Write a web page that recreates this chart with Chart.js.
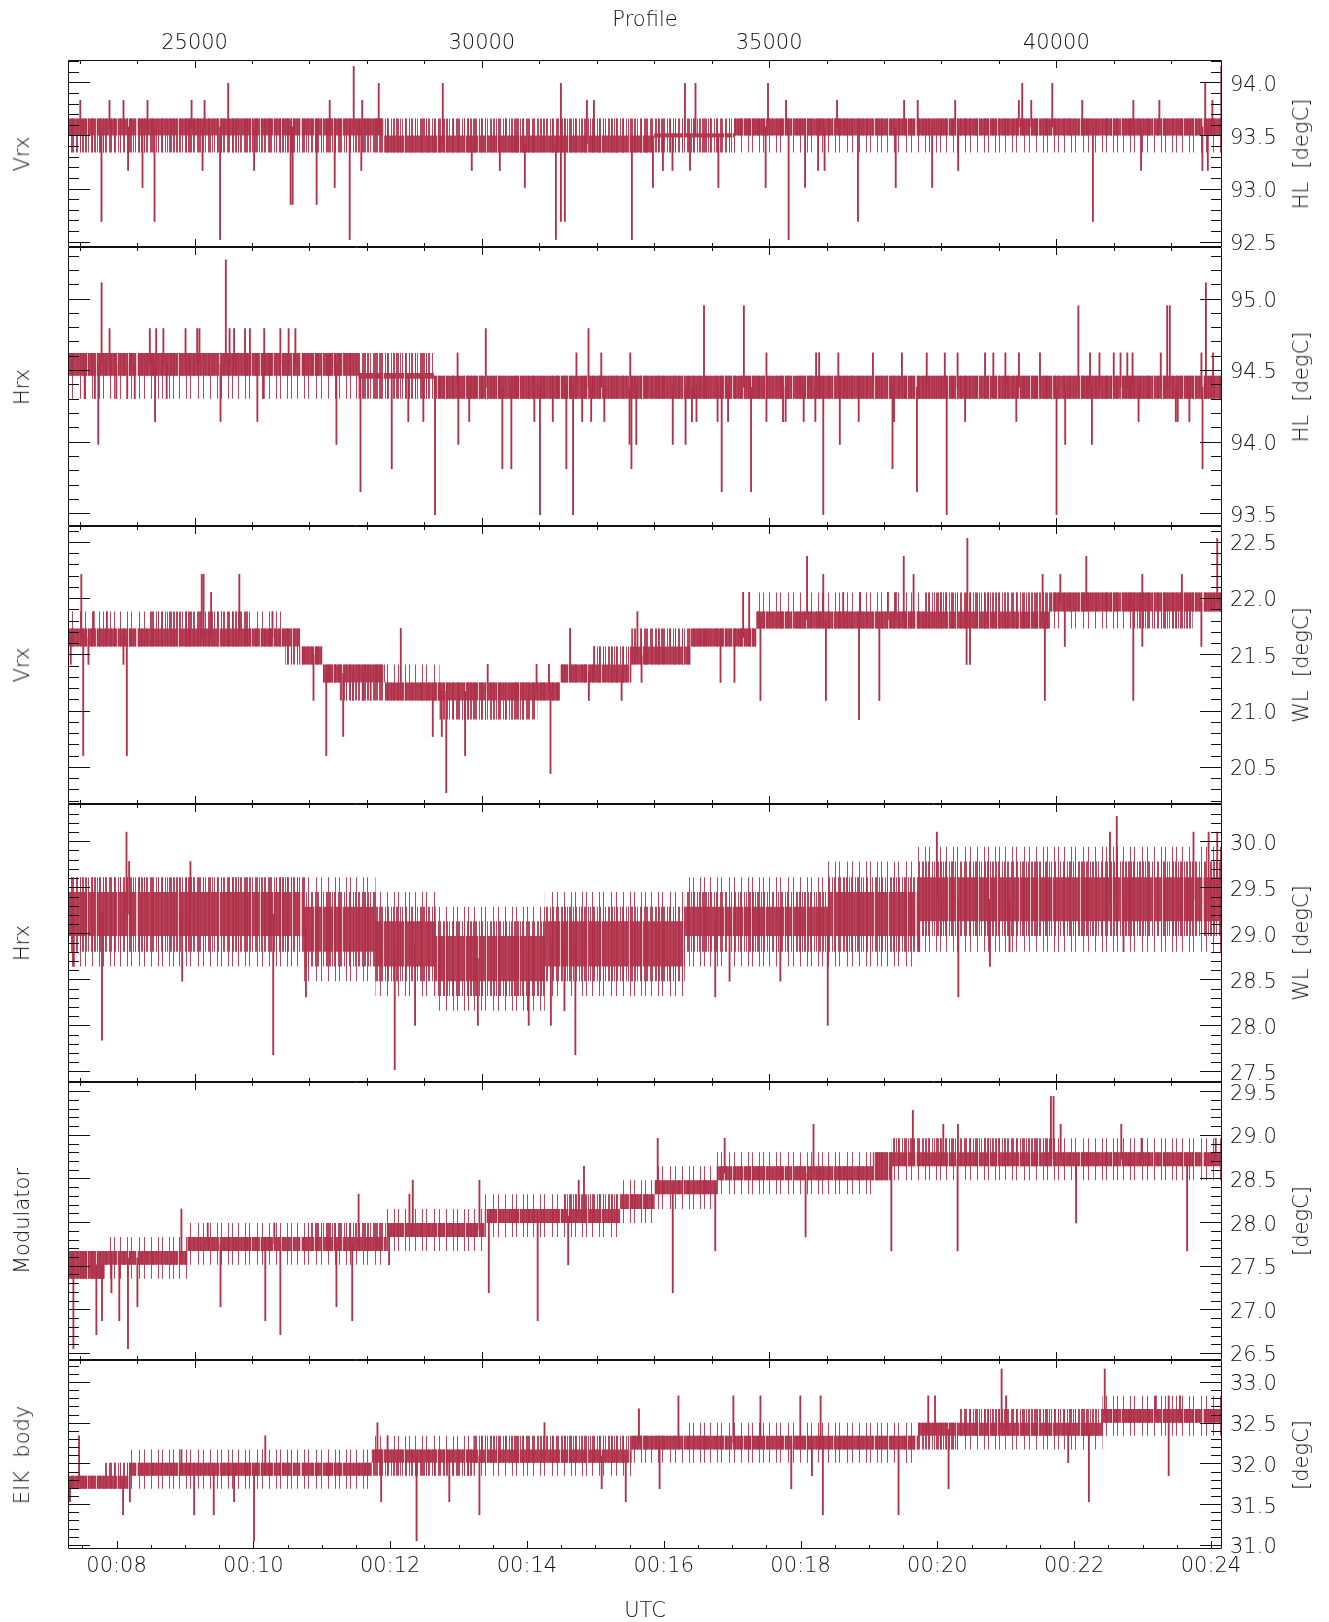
<!DOCTYPE html>
<html>
<head>
<meta charset="utf-8">
<script src="https://cdn.jsdelivr.net/npm/chart.js@4.4.1/dist/chart.umd.min.js"></script>
<style>
  body { margin: 0; background: #fff; width: 1329px; height: 1622px; position: relative; overflow: hidden; }
  canvas { position: absolute; left: 0; }
  .lab { position: absolute; font-family: 'DejaVu Sans', sans-serif; font-weight: 200; font-size: 21px; color: #111;
         white-space: nowrap; transform: translate(-50%, -50%) rotate(-90deg); }
</style>
</head>
<body>
<script>
// x axis: profile number (top) and UTC seconds after midnight (bottom)
var profileRange = [22797, 42883];
var profileTicks = [25000, 30000, 35000, 40000];
var timeRange = [437.4, 1449.7];
var timeTicks = [480, 600, 720, 840, 960, 1080, 1200, 1320, 1440];

// ---- Vrx HL ----
var vrxHlTicks = [92.5, 93.0, 93.5, 94.0];
var vrxHlSegX = [22797, 28300, 33000, 34400, 42883];
var vrxHlCoreLo = [93.50, 93.34, 93.48, 93.50];
var vrxHlCoreHi = [93.66, 93.50, 93.52, 93.66];
var vrxHlHaloLo = [93.34, 93.34, 93.34, 93.50];
var vrxHlHaloHi = [93.66, 93.66, 93.66, 93.66];
var vrxHlHazeLo = [93.34, 93.34, 93.34, 93.34];
var vrxHlHazeHi = [93.66, 93.66, 93.66, 93.66];
var vrxHlSpikeX = [23011,23519,23763,24181,24948,25174,25585,27352,27770,27918,
  28205,29320,31376,31829,31951,33536,33719,34981,35295,36183,
  37350,37587,38239,39347,39406,39563,39929,40451,41340,41793,
  42591,42716,42870,
  23380,23843,24094,24303,25139,25444,26036,26672,26707,27125,
  27439,27700,27902,29825,30313,30749,31289,31376,31445,32612,
  32978,33152,33318,33623,34117,34940,35340,35626,35852,35966,
  36547,37204,37838,38291,40636,41474,42542,42636];
var vrxHlSpikeY = [93.83,93.83,93.83,93.83,93.83,93.83,93.99,93.83,94.15,93.83,
  93.99,93.99,93.99,93.83,93.83,93.99,93.99,93.99,93.83,93.83,
  93.83,93.83,93.83,93.83,93.99,93.83,93.99,93.83,93.83,93.83,
  93.99,93.83,94.15,
  92.69,93.17,93.01,92.69,93.17,92.52,93.17,92.85,92.85,92.85,
  93.01,92.52,93.17,93.17,93.17,93.01,92.52,92.69,92.69,92.52,
  93.01,93.17,93.17,93.17,93.01,93.01,92.52,93.01,93.17,93.17,
  92.69,93.01,93.01,93.17,92.69,93.17,93.17,93.17];

// ---- Hrx HL ----
var hrxHlTicks = [93.5, 94.0, 94.5, 95.0];
var hrxHlSegX = [22797, 27855, 29165, 42883];
var hrxHlCoreLo = [94.46, 94.44, 94.30];
var hrxHlCoreHi = [94.62, 94.48, 94.46];
var hrxHlHaloLo = [94.46, 94.30, 94.30];
var hrxHlHaloHi = [94.62, 94.62, 94.46];
var hrxHlHazeLo = [94.30, 94.30, 94.30];
var hrxHlHazeHi = [94.62, 94.62, 94.46];
var hrxHlSpikeX = [23382,23520,24221,24332,24457,24843,25046,25085,25544,25609,
  25688,25878,25963,26212,26493,26637,26755,29578,30069,31647,
  31857,32079,32583,33867,34561,34954,35818,35871,36205,36807,
  37312,37744,38058,38281,38759,38903,39113,39349,39715,40383,
  40586,40750,40999,41117,41235,41326,41817,41929,41975,42525,
  42603,42728,
  23088,23265,23324,23638,23828,23959,24312,24515,25452,26093,
  26205,27469,27888,28432,28720,28982,29185,29591,29781,30357,
  30514,30914,31012,31235,31471,31588,31746,31903,32132,32571,
  32604,32689,33323,33546,33657,33736,34103,34175,34286,34686,
  34954,35242,35288,35602,35805,35943,36231,36559,37148,37174,
  37574,38091,38412,39303,40003,40154,40619,41431,42079,42112,
  42315,42544];
var hrxHlSpikeY = [95.11,94.79,94.79,94.79,94.79,94.79,94.79,94.79,95.27,94.79,
  94.79,94.79,94.79,94.79,94.79,94.79,94.79,94.62,94.79,94.62,
  94.79,94.62,94.62,94.95,94.95,94.62,94.62,94.62,94.62,94.62,
  94.62,94.62,94.62,94.62,94.62,94.62,94.62,94.62,94.62,94.95,
  94.62,94.62,94.62,94.62,94.62,94.62,94.62,94.95,94.95,94.62,
  95.11,94.62,
  94.30,94.30,93.98,94.30,94.30,94.30,94.14,94.30,94.14,94.14,
  94.30,93.98,93.65,93.81,94.14,94.14,93.49,93.98,94.14,93.81,
  93.81,94.14,93.49,94.14,93.81,93.49,94.14,94.14,94.14,93.98,
  93.81,93.98,93.98,93.98,94.14,94.14,94.14,93.65,94.14,93.65,
  94.14,94.14,94.14,94.14,94.14,93.49,93.98,94.14,93.81,94.14,
  93.65,93.49,94.14,94.14,93.49,93.98,93.98,94.14,94.14,94.14,
  94.14,93.81];

// ---- Vrx WL ----
var vrxWlTicks = [20.5, 21.0, 21.5, 22.0, 22.5];
var vrxWlSegX = [22797,24221,25956,26578,26840,27233,27528,28314,29264,30966,
  31359,31948,32600,33631,34777,37724,39885,41391,42374,42883];
var vrxWlCoreLo = [21.57,21.57,21.57,21.57,21.41,21.25,21.25,21.09,21.09,21.09,21.25,21.25,21.41,21.57,21.73,21.73,21.88,21.88,21.88];
var vrxWlCoreHi = [21.73,21.73,21.73,21.73,21.57,21.41,21.41,21.25,21.25,21.25,21.41,21.41,21.57,21.73,21.88,21.88,22.05,22.05,22.05];
var vrxWlHaloLo = [21.57,21.57,21.57,21.41,21.41,21.25,21.09,21.09,20.92,21.09,21.25,21.25,21.41,21.57,21.73,21.73,21.88,21.73,21.88];
var vrxWlHaloHi = [21.73,21.88,21.73,21.73,21.57,21.41,21.41,21.25,21.25,21.25,21.41,21.57,21.73,21.73,21.88,22.05,22.05,22.05,22.05];
var vrxWlHazeLo = [21.57,21.57,21.57,21.41,21.41,21.25,21.09,21.09,20.92,21.09,21.25,21.25,21.41,21.57,21.73,21.73,21.73,21.73,21.88];
var vrxWlHazeHi = [21.88,21.88,21.88,21.73,21.57,21.41,21.41,21.41,21.25,21.25,21.41,21.57,21.73,21.73,22.05,22.05,22.05,22.05,22.05];
var vrxWlSpikeX = [23029,23245,23474,25125,25157,25288,25779,26356,28589,30102,
  30953,31169,31536,31955,32708,34548,34653,35661,35943,36290,
  36585,37069,37207,37344,37515,38451,39761,40069,40521,41496,
  42184,42800,
  22845,23062,23153,23762,23821,27070,27292,27587,27757,27927,
  28065,29146,29303,29381,29709,31195,31863,32433,32780,34155,
  34397,34849,35989,36565,36919,38438,38497,39800,40147,41339,
  41496,42524];
var vrxWlSpikeY = [22.21,21.88,21.88,22.21,22.21,22.05,22.21,21.88,21.73,21.41,
  21.41,21.41,21.73,21.57,21.88,22.05,22.05,22.37,22.21,22.05,
  22.05,22.05,22.05,22.37,22.21,22.53,22.21,22.21,22.37,22.21,
  22.21,22.53,
  21.41,20.60,21.41,21.41,20.60,21.09,20.60,20.77,21.09,21.09,
  21.09,20.77,20.77,20.27,20.60,20.44,21.09,21.09,21.25,21.25,
  21.25,21.09,21.09,20.92,21.09,21.41,21.41,21.09,21.57,21.09,
  21.57,21.57];

// ---- Hrx WL ----
var hrxWlTicks = [27.5, 28.0, 28.5, 29.0, 29.5, 30.0];
var hrxWlSegX = [22797, 26906, 28150, 29198, 31097, 33533, 36021, 37593, 42883];
var hrxWlCoreLo = [28.97, 28.80, 28.64, 28.48, 28.64, 28.97, 28.97, 29.13];
var hrxWlCoreHi = [29.45, 29.29, 29.13, 28.97, 29.13, 29.29, 29.45, 29.61];
var hrxWlHaloLo = [28.80, 28.64, 28.48, 28.32, 28.48, 28.80, 28.80, 28.97];
var hrxWlHaloHi = [29.61, 29.45, 29.29, 29.13, 29.29, 29.45, 29.61, 29.78];
var hrxWlHazeLo = [28.64, 28.48, 28.32, 28.16, 28.32, 28.64, 28.64, 28.80];
var hrxWlHazeHi = [29.61, 29.61, 29.45, 29.29, 29.45, 29.61, 29.78, 29.94];
var hrxWlSpikeX = [23815,23861,24928,37920,40933,41051,42387,42650,42800,
  22898,23389,24784,26369,26939,28484,28838,29931,30816,31202,
  31438,31628,34063,34312,35196,36021,37613,38294,38844,39185,41169];
var hrxWlSpikeY = [30.10,29.78,29.78,30.10,30.10,30.27,30.10,30.10,30.10,
  28.64,27.84,28.48,27.68,28.31,27.52,28.00,28.00,28.00,28.00,
  28.16,27.68,28.31,28.48,28.48,28.00,28.80,28.31,28.64,28.80,28.80];

// ---- Modulator ----
var modTicks = [26.5, 27.0, 27.5, 28.0, 28.5, 29.0, 29.5];
var modSegX = [22797,23435,24876,26971,28347,30050,31425,32407,33009,34090,36807,37135,39951,42883];
var modCoreLo = [27.35,27.51,27.67,27.67,27.83,27.99,27.99,28.15,28.32,28.48,28.48,28.64,28.64];
var modCoreHi = [27.67,27.67,27.83,27.83,27.99,28.15,28.15,28.32,28.48,28.64,28.80,28.80,28.80];
var modHaloLo = [27.35,27.51,27.67,27.67,27.83,27.99,27.99,28.15,28.32,28.48,28.48,28.64,28.64];
var modHaloHi = [27.67,27.67,27.83,27.99,27.99,28.15,28.32,28.32,28.48,28.64,28.80,28.96,28.80];
var modHazeLo = [27.35,27.35,27.51,27.51,27.67,27.83,27.83,27.99,28.15,28.32,28.48,28.48,28.48];
var modHazeHi = [27.67,27.83,27.99,27.99,28.15,28.32,28.32,28.48,28.64,28.80,28.80,28.96,28.96];
var modSpikeX = [24771,25229,26388,27855,28740,28798,29958,31686,31778,33061,
  34227,35773,37502,38032,38287,39905,39951,40075,41130,41483,42774,
  22891,23291,23389,23553,23690,23841,24005,25452,26231,26493,
  27469,27744,28386,30121,30972,31503,33323,34063,35635,37128,
  38281,40344,42276];
var modSpikeY = [28.15,27.99,27.99,28.32,28.32,28.48,28.48,28.48,28.64,28.96,
  28.96,29.12,29.28,29.12,29.12,29.44,29.44,29.12,29.12,28.96,28.96,
  26.55,26.71,26.87,27.19,26.87,26.55,27.03,27.03,26.87,26.71,
  27.03,26.87,27.51,27.19,26.87,27.51,27.19,27.67,27.83,27.67,
  27.67,27.99,27.67];

// ---- EIK body ----
var eikTicks = [31.0, 31.5, 32.0, 32.5, 33.0];
var eikSegX = [22797,23435,23860,28085,29853,32604,33598,37593,38314,40802,42883];
var eikCoreLo = [31.69,31.69,31.85,32.01,32.01,32.17,32.17,32.34,32.34,32.50];
var eikCoreHi = [31.85,31.85,32.01,32.17,32.17,32.34,32.34,32.50,32.50,32.67];
var eikHaloLo = [31.69,31.69,31.85,31.85,32.01,32.17,32.17,32.17,32.34,32.50];
var eikHaloHi = [31.85,32.01,32.01,32.17,32.34,32.34,32.34,32.50,32.67,32.67];
var eikHazeLo = [31.69,31.69,31.69,31.85,31.85,32.01,32.01,32.17,32.17,32.34];
var eikHazeHi = [31.85,32.01,32.17,32.34,32.34,32.34,32.50,32.50,32.67,32.83];
var eikSpikeX = [22990,24771,26231,28183,28360,31091,32735,33422,34378,34849,
  35543,35897,37770,37888,39047,39126,40842,41732,41955,42151,
  22832,23756,23874,24993,25334,25688,26035,28248,28864,29434,
  29958,32086,32505,33094,35386,35746,35936,37253,38124,40206,40566,41955];
var eikSpikeY = [32.34,32.17,32.34,32.50,32.34,32.50,32.67,32.83,32.83,32.83,
  32.83,32.83,32.83,32.83,33.16,32.83,33.16,32.83,32.83,32.83,
  31.53,31.37,31.53,31.37,31.37,31.53,31.05,31.53,31.05,31.53,
  31.37,31.69,31.53,31.69,31.69,31.85,31.37,31.37,31.69,32.01,31.53,31.85];

var panels = [
  { left: 'Vrx', right: 'HL\u00a0 [degC]', y: [92.45, 94.21], ticks: vrxHlTicks, segX: vrxHlSegX,
    core: [vrxHlCoreLo, vrxHlCoreHi], halo: [vrxHlHaloLo, vrxHlHaloHi], haze: [vrxHlHazeLo, vrxHlHazeHi],
    sx: vrxHlSpikeX, sy: vrxHlSpikeY },
  { left: 'Hrx', right: 'HL\u00a0 [degC]', y: [93.41, 95.36], ticks: hrxHlTicks, segX: hrxHlSegX,
    core: [hrxHlCoreLo, hrxHlCoreHi], halo: [hrxHlHaloLo, hrxHlHaloHi], haze: [hrxHlHazeLo, hrxHlHazeHi],
    sx: hrxHlSpikeX, sy: hrxHlSpikeY },
  { left: 'Vrx', right: 'WL\u00a0 [degC]', y: [20.17, 22.64], ticks: vrxWlTicks, segX: vrxWlSegX,
    core: [vrxWlCoreLo, vrxWlCoreHi], halo: [vrxWlHaloLo, vrxWlHaloHi], haze: [vrxWlHazeLo, vrxWlHazeHi],
    sx: vrxWlSpikeX, sy: vrxWlSpikeY },
  { left: 'Hrx', right: 'WL\u00a0 [degC]', y: [27.385, 30.405], ticks: hrxWlTicks, segX: hrxWlSegX,
    core: [hrxWlCoreLo, hrxWlCoreHi], halo: [hrxWlHaloLo, hrxWlHaloHi], haze: [hrxWlHazeLo, hrxWlHazeHi],
    sx: hrxWlSpikeX, sy: hrxWlSpikeY },
  { left: 'Modulator', right: '[degC]', y: [26.42, 29.605], ticks: modTicks, segX: modSegX,
    core: [modCoreLo, modCoreHi], halo: [modHaloLo, modHaloHi], haze: [modHazeLo, modHazeHi],
    sx: modSpikeX, sy: modSpikeY },
  { left: 'EIK\u00a0 body', right: '[degC]', y: [30.95, 33.27], ticks: eikTicks, segX: eikSegX,
    core: [eikCoreLo, eikCoreHi], halo: [eikHaloLo, eikHaloHi], haze: [eikHazeLo, eikHazeHi],
    sx: eikSpikeX, sy: eikSpikeY }
];

// page layout (pixels)
var panelTop = [60, 247, 526, 804, 1082, 1360];
var panelBot = [247, 526, 804, 1082, 1360, 1549];
var red = '176,50,74';
var font = { family: "'DejaVu Sans', sans-serif", size: 21, weight: '200' };
var ink = '#111';

// fill textures: dense sampling shows up as vertical hair lines
function stripes(width, lines, gaps) {
  var c = document.createElement('canvas');
  c.width = width; c.height = 8;
  var g = c.getContext('2d');
  if (gaps) {
    g.fillStyle = 'rgba(' + red + ',0.93)';
    g.fillRect(0, 0, width, 8);
    g.clearRect(0, 0, 0, 0);
    gaps.forEach(function (o) { g.clearRect(o, 0, 1, 8); });
    g.fillStyle = 'rgba(' + red + ',0.3)';
    gaps.forEach(function (o) { g.fillRect(o, 0, 1, 8); });
  } else {
    g.fillStyle = 'rgba(' + red + ',0.9)';
    lines.forEach(function (o) { g.fillRect(o, 0, 1, 8); });
  }
  return g.createPattern(c, 'repeat');
}
var corePattern = stripes(41, null, [5, 13, 14, 27, 35]);
var haloPattern = stripes(47, [0,1,3,5,6,9,11,12,15,17,20,21,24,26,29,30,33,35,36,39,41,44,45]);
var hazePattern = stripes(59, [2,9,13,21,26,33,40,44,51,55]);

function steps(xs, ys) {
  var pts = [];
  for (var k = 0; k < ys.length; k++) {
    pts.push({ x: xs[k], y: ys[k] }, { x: xs[k + 1], y: ys[k] });
  }
  return pts;
}

function band(xs, lo, hi, fillStyle) {
  return [
    { type: 'line', data: steps(xs, lo), borderWidth: 0, pointRadius: 0, fill: false },
    { type: 'line', data: steps(xs, hi), borderWidth: 0, pointRadius: 0, fill: '-1', backgroundColor: fillStyle }
  ];
}

// inward ticks and box round every panel, IDL style
var boxTicks = {
  id: 'boxTicks',
  afterDraw: function (chart) {
    var ctx = chart.ctx, a = chart.chartArea, ys = chart.scales.y, xs = chart.scales.x;
    var L = Math.round(a.left), R = Math.round(a.right), T = Math.round(a.top), B = Math.round(a.bottom);
    ctx.save();
    ctx.strokeStyle = ink;
    ctx.lineWidth = 1;
    ctx.beginPath();
    ctx.rect(L + 0.5, T + 0.5, R - L - 1, B - T - 1);
    for (var k = Math.ceil(ys.min * 10); k <= Math.floor(ys.max * 10); k++) {
      var py = Math.round(ys.getPixelForValue(k / 10)) + 0.5;
      var len = k % 5 === 0 ? 22 : 11;
      ctx.moveTo(L, py); ctx.lineTo(L + len, py);
      ctx.moveTo(R - len, py); ctx.lineTo(R, py);
    }
    for (var p = Math.ceil(xs.min / 1000); p <= Math.floor(xs.max / 1000); p++) {
      var px = Math.round(xs.getPixelForValue(p * 1000)) + 0.5;
      var l2 = p % 5 === 0 ? 8 : 4;
      ctx.moveTo(px, T); ctx.lineTo(px, T + l2);
      if (!chart.scales.xt) { ctx.moveTo(px, B); ctx.lineTo(px, B - l2); }
    }
    if (chart.scales.xt) {
      var xt = chart.scales.xt;
      for (var s = Math.ceil(xt.min / 30); s <= Math.floor(xt.max / 30); s++) {
        var qx = Math.round(xt.getPixelForValue(s * 30)) + 0.5;
        var l3 = (s * 30) % 120 === 0 ? 8 : 4;
        ctx.moveTo(qx, B); ctx.lineTo(qx, B - l3);
      }
    }
    ctx.stroke();
    ctx.restore();
  }
};

function label(text, x, y) {
  var d = document.createElement('div');
  d.className = 'lab';
  d.textContent = text;
  d.style.left = x + 'px';
  d.style.top = y + 'px';
  document.body.appendChild(d);
}

panels.forEach(function (def, i) {
  var first = i === 0, last = i === panels.length - 1;
  var top = first ? 0 : panelTop[i] - 40;
  var bottom = last ? 1622 : panelBot[i] + 40;
  var cv = document.createElement('canvas');
  cv.width = 1329;
  cv.height = bottom - top;
  cv.style.top = top + 'px';
  document.body.appendChild(cv);

  var segX = def.segX;
  function baseAt(x) {
    var k = 0;
    while (k < segX.length - 2 && x >= segX[k + 1]) k++;
    return (def.core[0][k] + def.core[1][k]) / 2;
  }
  var spikes = def.sx.map(function (x, k) { return { x: x, y: [baseAt(x), def.sy[k]] }; });

  var datasets = [
    { type: 'bar', data: spikes, backgroundColor: 'rgb(' + red + ')', borderWidth: 0, barThickness: 1.2 }
  ].concat(
    band(segX, def.core[0], def.core[1], corePattern),
    band(segX, def.halo[0], def.halo[1], haloPattern),
    band(segX, def.haze[0], def.haze[1], hazePattern)
  );

  var scales = {
    x: {
      type: 'linear', min: profileRange[0], max: profileRange[1], offset: false,
      display: first, position: 'top',
      afterBuildTicks: function (s) { s.ticks = profileTicks.map(function (v) { return { value: v }; }); },
      afterFit: function (s) { s.height = first ? 60 : 0; },
      grid: { display: false, drawTicks: false }, border: { display: false },
      ticks: { autoSkip: false, maxRotation: 0, padding: 4, color: ink, font: font,
               callback: function (v) { return String(v); } },
      title: { display: true, text: 'Profile', color: ink, font: font, padding: { top: 8, bottom: 0 } }
    },
    y: {
      type: 'linear', position: 'right', min: def.y[0], max: def.y[1],
      afterBuildTicks: function (s) { s.ticks = def.ticks.map(function (v) { return { value: v }; }); },
      afterFit: function (s) { s.width = 1329 - 1222; },
      grid: { display: false, drawTicks: false }, border: { display: false },
      ticks: { autoSkip: false, padding: 8, labelOffset: 3, color: ink, font: font,
               callback: function (v) { return v.toFixed(1); } }
    }
  };
  if (last) {
    scales.xt = {
      type: 'linear', position: 'bottom', min: timeRange[0], max: timeRange[1], offset: false,
      afterBuildTicks: function (s) { s.ticks = timeTicks.map(function (v) { return { value: v }; }); },
      afterFit: function (s) { s.height = 1622 - panelBot[i]; },
      grid: { display: false, drawTicks: false }, border: { display: false },
      ticks: { autoSkip: false, maxRotation: 0, padding: 5, color: ink, font: font,
               callback: function (v) { return '00:' + String(Math.round(v / 60)).padStart(2, '0'); } },
      title: { display: true, text: 'UTC', color: ink,
               font: { family: font.family, size: 21, weight: '200', lineHeight: 1.0 },
               padding: { top: 0, bottom: 0 } }
    };
  }

  new Chart(cv, {
    type: 'line',
    data: { datasets: datasets },
    options: {
      responsive: false,
      animation: false,
      events: [],
      layout: { padding: { left: 68, right: 0, top: first ? 0 : 40, bottom: last ? 0 : 40 } },
      plugins: { legend: { display: false }, tooltip: { enabled: false } },
      scales: scales
    },
    plugins: [boxTicks]
  });

  var mid = (panelTop[i] + panelBot[i]) / 2;
  label(def.left, 22, mid);
  label(def.right, 1301, mid);
});
</script>
</body>
</html>
